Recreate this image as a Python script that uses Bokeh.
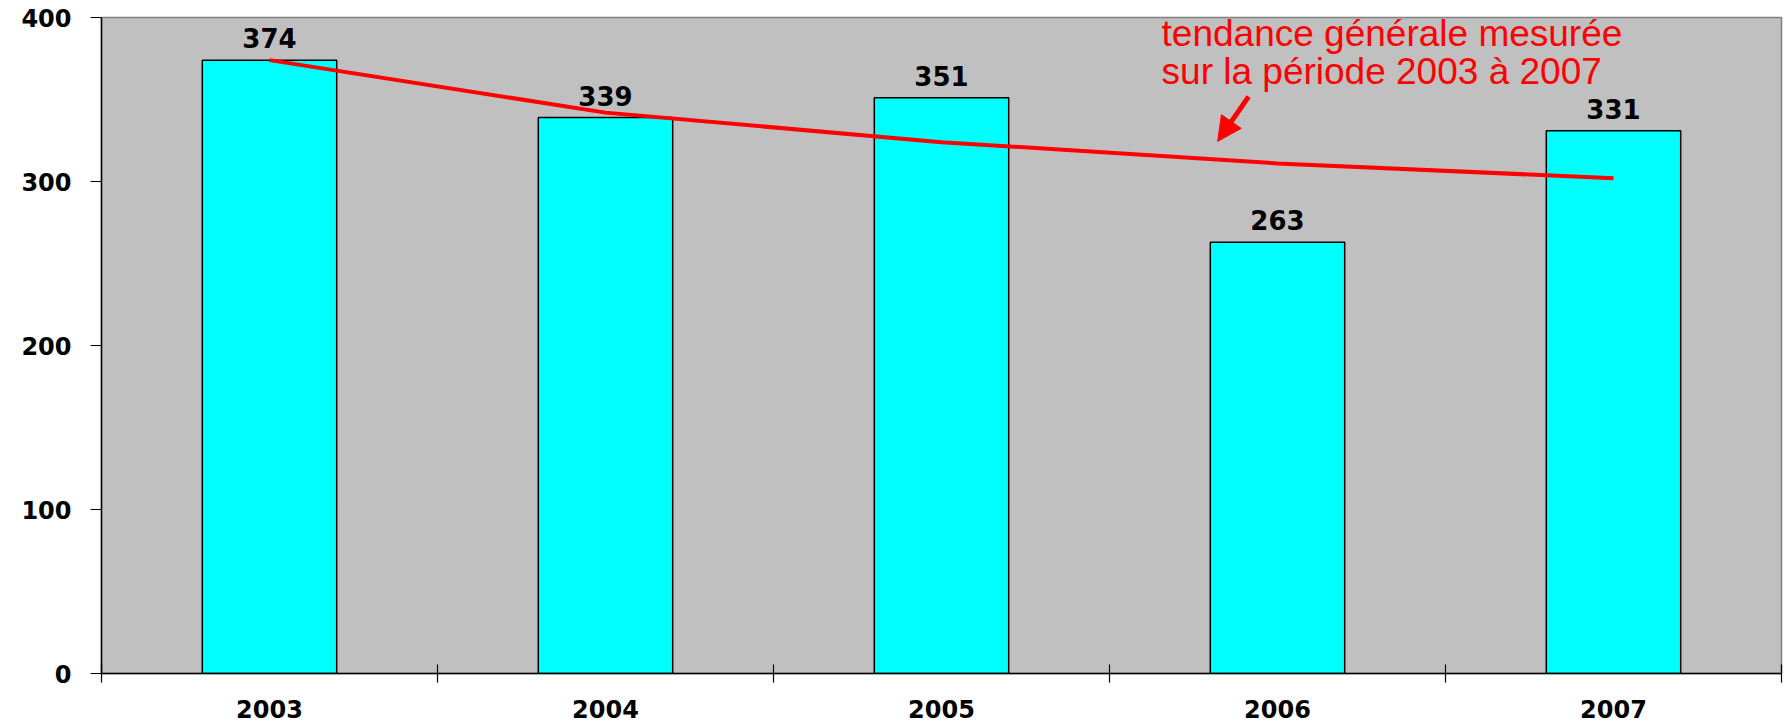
from bokeh.plotting import figure
from bokeh.models import (ColumnDataSource, Range1d, FixedTicker, Label, Arrow,
                          NormalHead, LinearAxis)
from bokeh.core.properties import value
from bokeh.embed import file_html
from bokeh.resources import INLINE

# ---- data ----
years = ["2003", "2004", "2005", "2006", "2007"]
counts = [374, 339, 351, 263, 331]
trend = [374, 342, 324, 311, 302]          # tendance générale
y_ticks = [0, 100, 200, 300, 400]
note_lines = ["tendance générale mesurée", "sur la période 2003 à 2007"]

centers = [i + 0.5 for i in range(len(years))]
bounds = list(range(len(years) + 1))

src = ColumnDataSource(dict(x=centers, top=counts,
                            label=[str(v) for v in counts], trend=trend))

p = figure(width=1784, height=722, output_backend="svg", toolbar_location=None,
           x_range=Range1d(0, len(years)), y_range=Range1d(0, 400),
           min_border_left=101, min_border_right=3, min_border_top=17,
           min_border_bottom=49, x_axis_location=None, y_axis_location=None)

p.background_fill_color = "#C0C0C0"
p.border_fill_color = "white"
p.outline_line_color = "#808080"
p.outline_line_width = 1.5
p.xgrid.grid_line_color = None
p.ygrid.grid_line_color = None

# y axis
yax = LinearAxis(ticker=FixedTicker(ticks=y_ticks, minor_ticks=[]))
yax.axis_line_color = "black"
yax.axis_line_width = 1.5
yax.major_tick_out = 11
yax.major_tick_in = 0
yax.major_tick_line_width = 1.2
yax.minor_tick_line_color = None
yax.major_label_standoff = 19
yax.major_label_text_font = "DejaVu Sans"
yax.major_label_text_font_style = "bold"
yax.major_label_text_font_size = "24px"
yax.major_label_text_color = "black"
p.add_layout(yax, "left")

# x axis: labels at centres, ticks at category boundaries
xax = LinearAxis(ticker=FixedTicker(ticks=centers, minor_ticks=bounds))
xax.major_label_overrides = {c: y for c, y in zip(centers, years)}
xax.axis_line_color = "black"
xax.axis_line_width = 1.5
xax.major_tick_out = 0
xax.major_tick_in = 0
xax.major_tick_line_color = None
xax.minor_tick_in = 9
xax.minor_tick_out = 9
xax.minor_tick_line_color = "black"
xax.minor_tick_line_width = 1.2
xax.major_label_standoff = 17
xax.major_label_text_font = "DejaVu Sans"
xax.major_label_text_font_style = "bold"
xax.major_label_text_font_size = "24px"
xax.major_label_text_color = "black"
p.add_layout(xax, "below")

# bars
p.vbar(x="x", top="top", width=0.4, bottom=0, source=src,
       fill_color="#00FFFF", line_color="black", line_width=1.5)

# value labels
p.text(x="x", y="top", text="label", source=src, text_align="center",
       text_baseline="alphabetic", y_offset=-22,
       text_font=value("DejaVu Sans"), text_font_style="bold",
       text_font_size="26px", text_color="black")

# trend line
p.line(x="x", y="trend", source=src, line_color="#FF0000", line_width=4)

# annotation
for txt, yy in zip(note_lines, [390.3, 367.0]):
    p.add_layout(Label(x=3.155, y=yy, text=txt, text_color="#FF0000",
                       text_font="Liberation Sans", text_font_size="37px",
                       text_baseline="alphabetic", text_align="left"))

p.add_layout(Arrow(end=NormalHead(size=24, fill_color="#FF0000", line_color="#FF0000"),
                   x_start=3.414, y_start=351.8, x_end=3.322, y_end=324.5,
                   line_color="#FF0000", line_width=5))

open("out.html", "w").write(file_html(p, INLINE))
